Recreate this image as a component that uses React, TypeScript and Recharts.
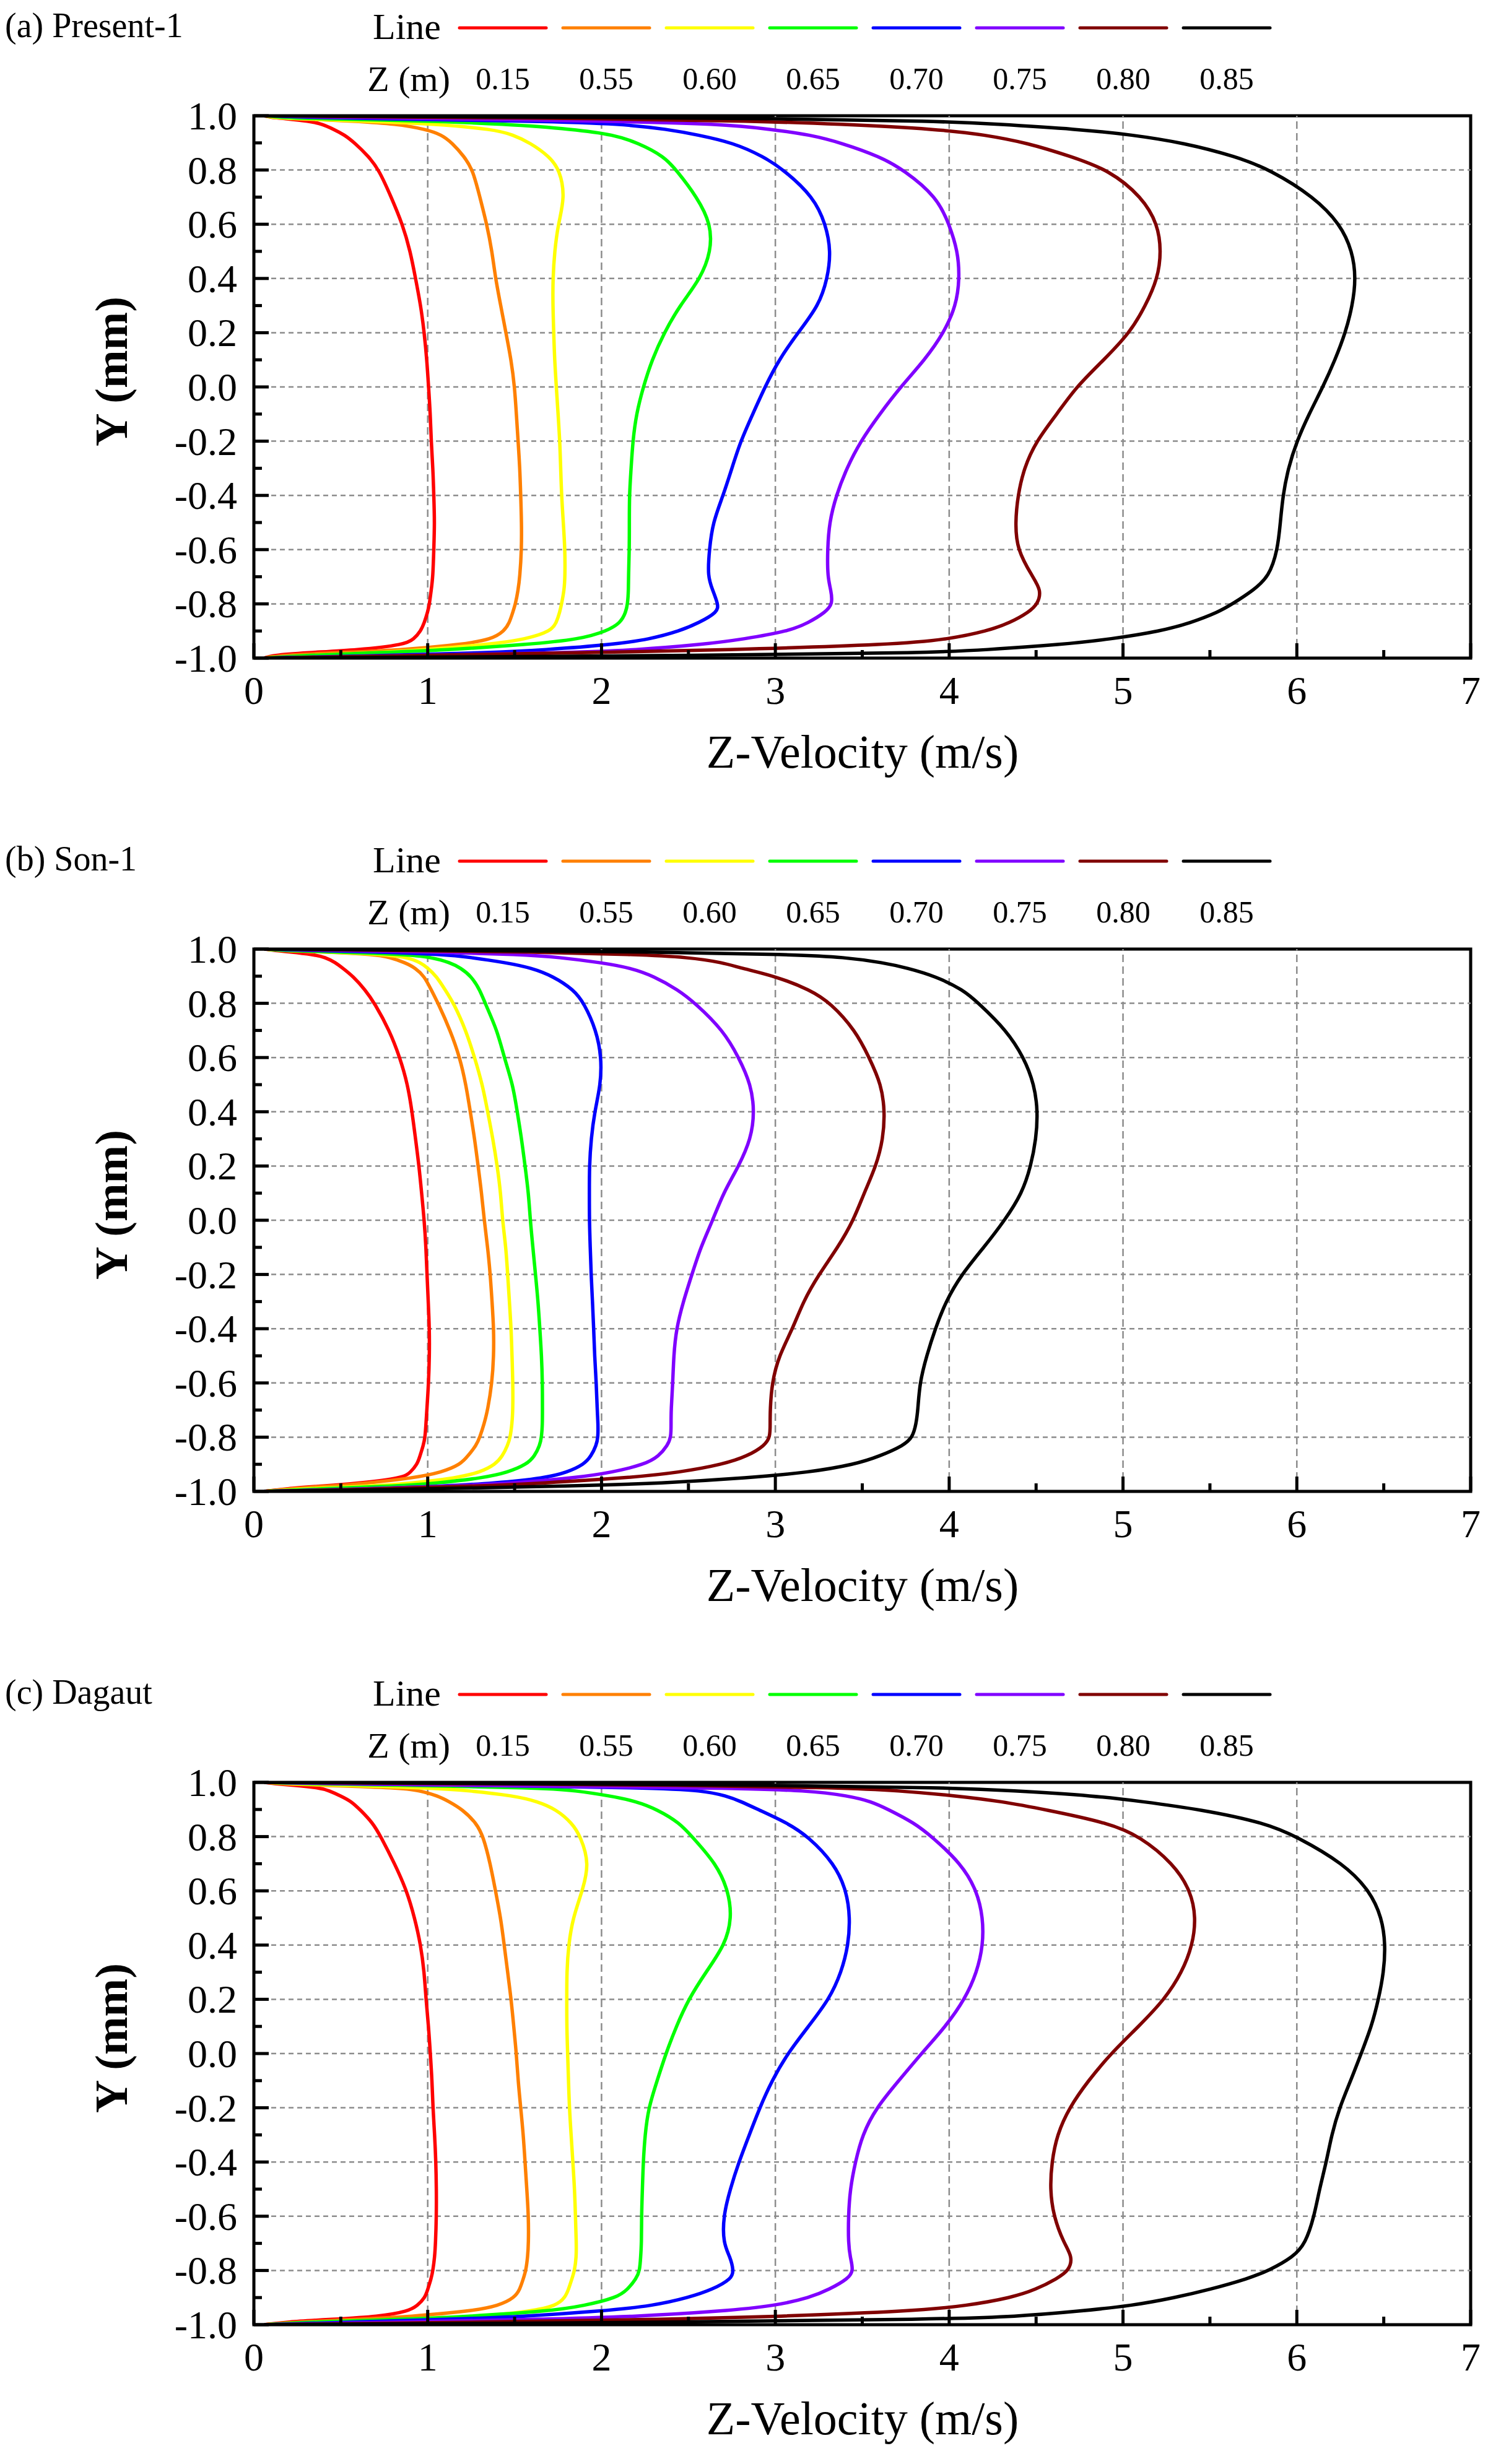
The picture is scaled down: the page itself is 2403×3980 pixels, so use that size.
import React from 'react';
import { LineChart, Line, XAxis, YAxis, ReferenceLine, ReferenceArea } from 'recharts';

const W = 2403;
const PANEL_H = 1346;
const FONT = '"Liberation Serif", "Times New Roman", Times, serif';

// legend
const zLabels = ['0.15', '0.55', '0.60', '0.65', '0.70', '0.75', '0.80', '0.85'];
const lineColors = ['#ff0000', '#ff8000', '#ffff00', '#00ff00', '#0000ff', '#8000ff', '#800000', '#000000'];
const panelTitles = ['(a) Present-1', '(b) Son-1', '(c) Dagaut'];

// axes
const xTicks = [0, 0.5, 1, 1.5, 2, 2.5, 3, 3.5, 4, 4.5, 5, 5.5, 6, 6.5, 7];
const yTicks = [-1.0, -0.9, -0.8, -0.7, -0.6, -0.5, -0.4, -0.3, -0.2, -0.1, 0.0, 0.1, 0.2, 0.3, 0.4, 0.5, 0.6, 0.7, 0.8, 0.9, 1.0];
const xGridLines = [1, 2, 3, 4, 5, 6];
const yGridLines = [-0.8, -0.6, -0.4, -0.2, 0.0, 0.2, 0.4, 0.6, 0.8];

// Y positions (mm) shared by every profile
const yPos = [1.0, 0.995, 0.99, 0.98, 0.97, 0.95, 0.93, 0.9, 0.85, 0.8, 0.7, 0.6, 0.5, 0.4, 0.3, 0.2, 0.1, 0.0, -0.1, -0.2, -0.3, -0.4, -0.5, -0.6, -0.7, -0.75, -0.8, -0.83, -0.87, -0.9, -0.93, -0.95, -0.97, -0.98, -0.99, -1.0];

// (a) Present-1, Z-velocity (m/s)
const aZ015 = [0.06, 0.09, 0.17, 0.32, 0.39, 0.46, 0.52, 0.58, 0.66, 0.72, 0.79, 0.855, 0.9, 0.93, 0.96, 0.98, 0.995, 1.005, 1.015, 1.02, 1.03, 1.035, 1.04, 1.035, 1.03, 1.02, 1.01, 1.0, 0.98, 0.96, 0.92, 0.87, 0.6, 0.3, 0.1, 0.06];
const aZ055 = [0.06, 0.12, 0.25, 0.58, 0.82, 0.99, 1.08, 1.14, 1.21, 1.26, 1.3, 1.34, 1.37, 1.39, 1.42, 1.45, 1.48, 1.5, 1.51, 1.52, 1.53, 1.535, 1.54, 1.54, 1.53, 1.52, 1.505, 1.49, 1.47, 1.44, 1.37, 1.2, 0.85, 0.48, 0.15, 0.06];
const aZ060 = [0.06, 0.1, 0.19, 0.65, 1.04, 1.38, 1.49, 1.59, 1.7, 1.76, 1.79, 1.75, 1.73, 1.72, 1.72, 1.725, 1.73, 1.74, 1.75, 1.76, 1.765, 1.77, 1.78, 1.79, 1.79, 1.785, 1.77, 1.76, 1.74, 1.71, 1.57, 1.35, 0.97, 0.71, 0.35, 0.06];
const aZ065 = [0.06, 0.15, 0.3, 1.05, 1.42, 1.85, 2.07, 2.21, 2.36, 2.43, 2.55, 2.63, 2.63, 2.57, 2.45, 2.36, 2.29, 2.24, 2.2, 2.18, 2.17, 2.16, 2.16, 2.16, 2.155, 2.155, 2.15, 2.14, 2.11, 2.03, 1.88, 1.58, 1.1, 0.71, 0.3, 0.06];
const aZ070 = [0.06, 0.3, 0.6, 1.65, 2.12, 2.38, 2.55, 2.76, 2.93, 3.05, 3.22, 3.29, 3.32, 3.3, 3.25, 3.13, 3.02, 2.94, 2.87, 2.8, 2.75, 2.7, 2.64, 2.62, 2.61, 2.64, 2.67, 2.67, 2.56, 2.45, 2.28, 2.07, 1.67, 1.35, 0.8, 0.06];
const aZ075 = [0.06, 0.5, 0.98, 2.07, 2.68, 2.98, 3.2, 3.38, 3.6, 3.74, 3.93, 4.0, 4.05, 4.06, 4.04, 3.97, 3.86, 3.72, 3.6, 3.49, 3.41, 3.35, 3.31, 3.3, 3.3, 3.32, 3.33, 3.29, 3.19, 3.08, 2.82, 2.58, 2.2, 1.81, 0.99, 0.06];
const aZ080 = [0.06, 0.9, 2.0, 2.9, 3.35, 3.95, 4.2, 4.45, 4.7, 4.92, 5.11, 5.2, 5.22, 5.2, 5.13, 5.04, 4.89, 4.73, 4.62, 4.5, 4.43, 4.395, 4.38, 4.39, 4.48, 4.53, 4.51, 4.46, 4.35, 4.22, 4.0, 3.7, 2.7, 1.9, 1.0, 0.06];
const aZ085 = [0.06, 1.8, 3.0, 3.95, 4.25, 4.75, 5.05, 5.35, 5.65, 5.85, 6.1, 6.25, 6.32, 6.34, 6.32, 6.28, 6.22, 6.15, 6.07, 6.0, 5.95, 5.92, 5.905, 5.89, 5.84, 5.75, 5.63, 5.55, 5.39, 5.22, 4.93, 4.65, 4.2, 3.89, 2.8, 0.06];

// (b) Son-1
const bZ015 = [0.06, 0.12, 0.2, 0.34, 0.41, 0.47, 0.51, 0.57, 0.64, 0.695, 0.78, 0.84, 0.885, 0.91, 0.93, 0.95, 0.965, 0.98, 0.99, 0.996, 1.003, 1.01, 1.01, 1.005, 0.995, 0.99, 0.985, 0.975, 0.955, 0.94, 0.9, 0.86, 0.6, 0.4, 0.18, 0.06];
const bZ055 = [0.06, 0.15, 0.4, 0.7, 0.78, 0.87, 0.93, 0.98, 1.02, 1.06, 1.13, 1.185, 1.22, 1.245, 1.27, 1.29, 1.31, 1.325, 1.345, 1.36, 1.37, 1.38, 1.38, 1.37, 1.345, 1.325, 1.3, 1.28, 1.23, 1.19, 1.08, 0.92, 0.65, 0.45, 0.2, 0.06];
const bZ060 = [0.06, 0.15, 0.42, 0.75, 0.88, 0.96, 1.0, 1.05, 1.1, 1.15, 1.22, 1.27, 1.315, 1.345, 1.375, 1.4, 1.42, 1.43, 1.45, 1.46, 1.47, 1.48, 1.485, 1.49, 1.49, 1.485, 1.475, 1.46, 1.43, 1.39, 1.3, 1.17, 0.9, 0.7, 0.3, 0.06];
const bZ065 = [0.06, 0.15, 0.45, 0.88, 1.02, 1.13, 1.19, 1.25, 1.3, 1.33, 1.4, 1.44, 1.49, 1.515, 1.54, 1.56, 1.58, 1.59, 1.605, 1.62, 1.635, 1.645, 1.655, 1.66, 1.66, 1.66, 1.655, 1.645, 1.615, 1.57, 1.46, 1.32, 1.05, 0.83, 0.4, 0.06];
const bZ070 = [0.06, 0.3, 0.7, 1.1, 1.24, 1.45, 1.6, 1.72, 1.84, 1.9, 1.97, 2.0, 1.995, 1.96, 1.94, 1.93, 1.93, 1.93, 1.935, 1.94, 1.948, 1.955, 1.96, 1.97, 1.975, 1.98, 1.98, 1.97, 1.94, 1.9, 1.8, 1.68, 1.38, 1.1, 0.72, 0.06];
const bZ075 = [0.06, 0.5, 1.0, 1.55, 1.75, 2.0, 2.17, 2.3, 2.44, 2.54, 2.7, 2.79, 2.86, 2.88, 2.86, 2.79, 2.7, 2.64, 2.57, 2.52, 2.47, 2.43, 2.415, 2.41, 2.4, 2.4, 2.4, 2.38, 2.33, 2.25, 2.06, 1.85, 1.49, 1.15, 0.72, 0.06];
const bZ080 = [0.06, 0.8, 1.6, 2.2, 2.5, 2.7, 2.8, 3.0, 3.2, 3.32, 3.46, 3.54, 3.61, 3.63, 3.62, 3.58, 3.51, 3.45, 3.36, 3.25, 3.16, 3.1, 3.02, 2.98, 2.97, 2.97, 2.97, 2.94, 2.84, 2.7, 2.45, 2.15, 1.65, 1.3, 0.8, 0.06];
const bZ085 = [0.06, 1.2, 2.3, 3.1, 3.4, 3.62, 3.76, 3.92, 4.08, 4.17, 4.33, 4.43, 4.49, 4.51, 4.5, 4.47, 4.42, 4.32, 4.2, 4.07, 3.98, 3.92, 3.87, 3.83, 3.82, 3.81, 3.79, 3.74, 3.6, 3.46, 3.19, 2.85, 2.35, 1.82, 1.1, 0.06];

// (c) Dagaut
const cZ015 = [0.06, 0.12, 0.22, 0.38, 0.43, 0.5, 0.56, 0.61, 0.685, 0.73, 0.81, 0.88, 0.925, 0.96, 0.98, 0.99, 1.005, 1.015, 1.025, 1.03, 1.04, 1.047, 1.05, 1.05, 1.045, 1.04, 1.03, 1.02, 1.0, 0.985, 0.94, 0.89, 0.72, 0.45, 0.18, 0.06];
const cZ055 = [0.06, 0.15, 0.35, 0.85, 0.95, 1.06, 1.12, 1.2, 1.28, 1.32, 1.36, 1.39, 1.42, 1.44, 1.46, 1.48, 1.495, 1.51, 1.52, 1.535, 1.55, 1.56, 1.57, 1.58, 1.58, 1.575, 1.565, 1.55, 1.53, 1.5, 1.41, 1.25, 0.9, 0.61, 0.25, 0.06];
const cZ060 = [0.06, 0.2, 0.45, 1.0, 1.24, 1.5, 1.63, 1.74, 1.83, 1.88, 1.93, 1.89, 1.835, 1.81, 1.8, 1.8, 1.8, 1.805, 1.81, 1.815, 1.825, 1.835, 1.845, 1.85, 1.855, 1.855, 1.845, 1.83, 1.81, 1.79, 1.74, 1.6, 1.3, 0.94, 0.4, 0.06];
const cZ065 = [0.06, 0.3, 0.8, 1.65, 1.85, 2.05, 2.2, 2.32, 2.45, 2.52, 2.66, 2.73, 2.75, 2.71, 2.6, 2.5, 2.43, 2.37, 2.32, 2.27, 2.25, 2.24, 2.235, 2.23, 2.23, 2.225, 2.22, 2.2, 2.15, 2.09, 1.9, 1.7, 1.22, 0.85, 0.34, 0.06];
const cZ070 = [0.06, 0.5, 1.2, 2.3, 2.58, 2.72, 2.8, 2.9, 3.07, 3.19, 3.34, 3.41, 3.43, 3.42, 3.38, 3.31, 3.19, 3.07, 2.98, 2.91, 2.85, 2.79, 2.74, 2.7, 2.7, 2.74, 2.76, 2.75, 2.64, 2.5, 2.3, 2.0, 1.55, 1.11, 0.6, 0.06];
const cZ075 = [0.06, 0.5, 1.1, 2.7, 3.2, 3.42, 3.55, 3.65, 3.8, 3.9, 4.07, 4.16, 4.195, 4.195, 4.16, 4.09, 3.98, 3.84, 3.71, 3.58, 3.5, 3.46, 3.43, 3.42, 3.42, 3.43, 3.45, 3.42, 3.31, 3.2, 3.0, 2.7, 2.2, 1.65, 0.9, 0.06];
const cZ080 = [0.06, 1.2, 2.5, 3.4, 3.7, 4.05, 4.3, 4.55, 4.92, 5.1, 5.29, 5.39, 5.42, 5.4, 5.34, 5.24, 5.09, 4.93, 4.8, 4.69, 4.62, 4.59, 4.58, 4.6, 4.66, 4.71, 4.69, 4.62, 4.5, 4.36, 4.1, 3.8, 3.0, 2.4, 1.4, 0.06];
const cZ085 = [0.06, 1.8, 3.0, 4.0, 4.35, 4.85, 5.1, 5.45, 5.82, 6.0, 6.27, 6.42, 6.49, 6.51, 6.5, 6.47, 6.43, 6.37, 6.31, 6.245, 6.2, 6.17, 6.13, 6.1, 6.05, 5.98, 5.84, 5.72, 5.5, 5.3, 5.05, 4.75, 4.4, 3.9, 2.7, 0.06];

const panelSeries = [
  [aZ015, aZ055, aZ060, aZ065, aZ070, aZ075, aZ080, aZ085],
  [bZ015, bZ055, bZ060, bZ065, bZ070, bZ075, bZ080, bZ085],
  [cZ015, cZ055, cZ060, cZ065, cZ070, cZ075, cZ080, cZ085],
];

const toPoints = (vals: number[]) => vals.map((v, i) => ({ x: v, y: yPos[i] }));

function YTick(props: any) {
  const { x, y, payload } = props;
  const v = payload.value as number;
  const major = Math.abs(v * 5 - Math.round(v * 5)) < 1e-6;
  return (
    <g>
      <line x1={x} x2={x + (major ? 24 : 13)} y1={y} y2={y} stroke="#000" strokeWidth={5} />
      {major && (
        <text x={x - 27} y={y + 22} textAnchor="end" fontSize={64} fontFamily={FONT} fill="#000">
          {v.toFixed(1)}
        </text>
      )}
    </g>
  );
}

function XTick(props: any) {
  const { x, y, payload } = props;
  const v = payload.value as number;
  const major = Number.isInteger(v);
  return (
    <g>
      <line x1={x} x2={x} y1={y} y2={y - (major ? 24 : 13)} stroke="#000" strokeWidth={5} />
      {major && (
        <text x={x} y={y + 74} textAnchor="middle" fontSize={64} fontFamily={FONT} fill="#000">
          {v}
        </text>
      )}
    </g>
  );
}

function Panel({ index }: { index: number }) {
  const series = panelSeries[index];
  return (
    <div style={{ position: 'absolute', left: 0, top: index * PANEL_H, width: W, height: PANEL_H }}>
      <LineChart width={W} height={PANEL_H} margin={{ top: 187, right: 28, bottom: 0, left: 0 }}>
        <XAxis
          type="number"
          dataKey="x"
          domain={[0, 7]}
          allowDataOverflow
          ticks={xTicks}
          interval={0}
          height={283}
          tickSize={0}
          tickMargin={0}
          tickLine={false}
          axisLine={false}
          tick={<XTick />}
        />
        <YAxis
          type="number"
          dataKey="y"
          domain={[-1, 1]}
          allowDataOverflow
          ticks={yTicks}
          interval={0}
          width={410}
          tickSize={0}
          tickMargin={0}
          tickLine={false}
          axisLine={false}
          tick={<YTick />}
        />
        {xGridLines.map((v) => (
          <ReferenceLine key={`gx${v}`} x={v} stroke="#8c8c8c" strokeWidth={2.5} strokeDasharray="12 7" />
        ))}
        {yGridLines.map((v) => (
          <ReferenceLine key={`gy${v}`} y={v} stroke="#8c8c8c" strokeWidth={2.5} strokeDasharray="8 6" />
        ))}
        {series.map((vals, i) => (
          <Line
            key={`s${i}`}
            data={toPoints(vals)}
            dataKey="y"
            type="basis"
            stroke={lineColors[i]}
            strokeWidth={5.5}
            dot={false}
            activeDot={false}
            isAnimationActive={false}
          />
        ))}
        <ReferenceArea x1={0} x2={7} y1={-1} y2={1} fill="none" stroke="#000" strokeWidth={5} ifOverflow="visible" />
      </LineChart>
      <svg
        width={W}
        height={PANEL_H}
        style={{ position: 'absolute', left: 0, top: 0, pointerEvents: 'none', overflow: 'visible' }}
        fontFamily={FONT}
      >
        <text x={8} y={60} fontSize={56} fill="#000">{panelTitles[index]}</text>
        <text x={712} y={63} fontSize={60} textAnchor="end" fill="#000">Line</text>
        <text x={727} y={147} fontSize={58} textAnchor="end" fill="#000">Z (m)</text>
        {zLabels.map((lab, i) => (
          <g key={lab}>
            <line x1={742 + 167 * i} x2={882 + 167 * i} y1={45} y2={45} stroke={lineColors[i]} strokeWidth={5} strokeLinecap="round" />
            <text x={812 + 167 * i} y={144} fontSize={50} textAnchor="middle" fill="#000">{lab}</text>
          </g>
        ))}
        <text x={1393} y={1240} fontSize={76} textAnchor="middle" fill="#000">Z-Velocity (m/s)</text>
        <text transform="translate(205,600) rotate(-90)" fontSize={74} fontWeight="bold" textAnchor="middle" fill="#000">Y (mm)</text>
      </svg>
    </div>
  );
}

export default function App() {
  return (
    <div style={{ position: 'absolute', left: 0, top: 0, width: W, height: 3980, background: '#fff' }}>
      {[0, 1, 2].map((i) => (
        <Panel key={i} index={i} />
      ))}
    </div>
  );
}
